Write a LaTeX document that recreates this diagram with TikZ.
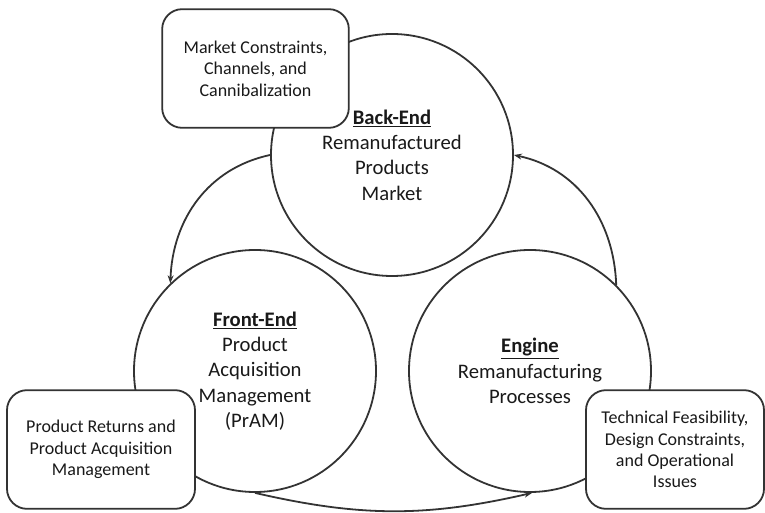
\documentclass[tikz,border=0pt]{standalone}
\usepackage{fontspec}
\setmainfont{Carlito}
\usetikzlibrary{arrows.meta}
\begin{document}
\begin{tikzpicture}[x=0.75pt,y=0.75pt,>={Stealth[length=6pt,width=4.5pt]},line width=1.35pt,
  ring/.style={draw=black!80,circle,minimum size=181.5pt,inner sep=0pt,align=center,text=black!90,font=\fontsize{15.5}{19}\selectfont},
  note/.style={draw=black!80,fill=white,rounded corners=15pt,align=center,minimum height=89pt,text=black!90,font=\fontsize{13.5}{16}\selectfont}]
\useasboundingbox (0,0) rectangle (765,-513);
% the three stages
\node[ring] (back) at (392,-155) {\underline{\textbf{Back-End}}\\Remanufactured\\Products\\Market};
\node[ring] (front) at (255,-371) {\underline{\textbf{Front-End}}\\Product\\Acquisition\\Management\\(PrAM)};
\node[ring] (engine) at (530,-371) {\underline{\textbf{Engine}}\\Remanufacturing\\Processes};
% issues of each stage
\node[note,minimum width=140pt] (market) at (255.5,-68.5) {Market Constraints,\\Channels, and\\Cannibalization};
\node[note,minimum width=141pt] (returns) at (101,-449.5) {Product Returns and\\Product Acquisition\\Management};
\node[note,minimum width=133.5pt] (tech) at (675,-449.5) {Technical Feasibility,\\Design Constraints,\\and Operational\\Issues};
% cycle
\draw[->,black!80] (back.west) to[out=192,in=88] (front.134);
\draw[->,black!80] (front.south) to[out=-13,in=193] (engine.271);
\draw[->,black!80] (engine.45) to[out=92,in=-12] (back.east);
\end{tikzpicture}
\end{document}
